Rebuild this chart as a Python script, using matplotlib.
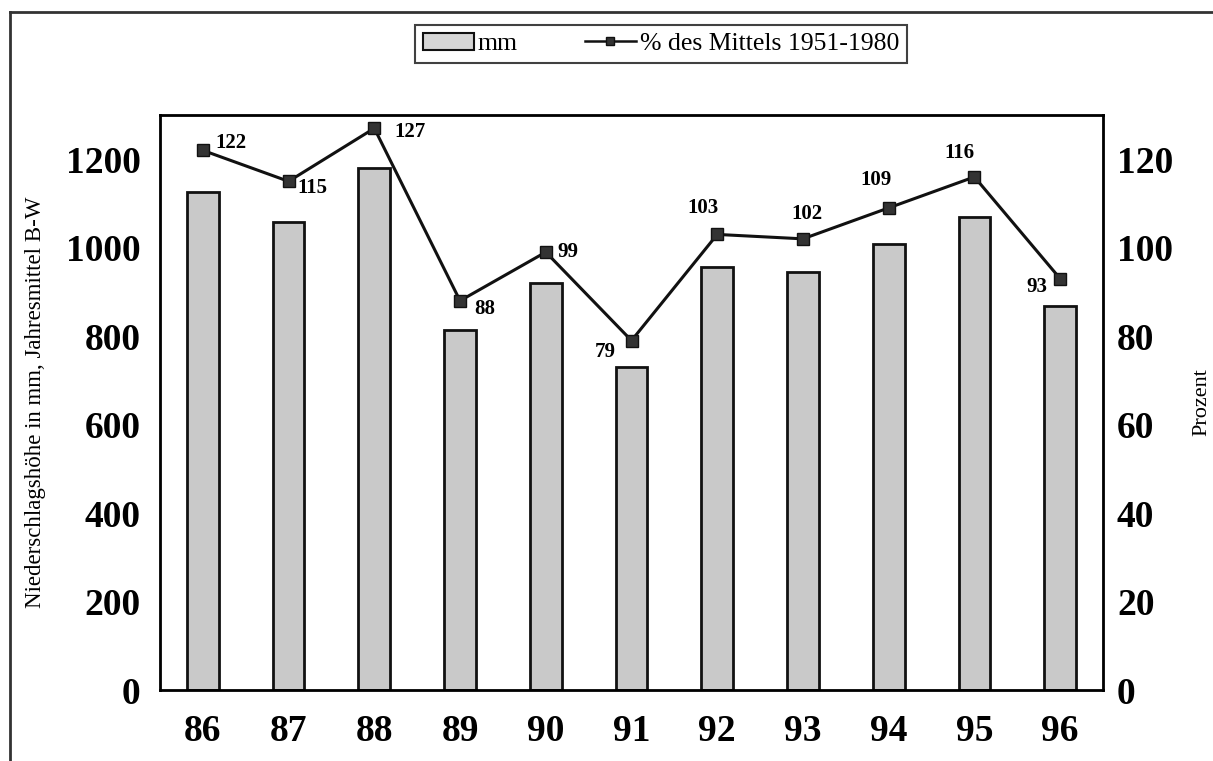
import matplotlib.pyplot as plt
from matplotlib.lines import Line2D

plt.rcParams['font.family'] = ['Liberation Serif', 'DejaVu Serif']

# Niederschlag Baden-Wuerttemberg, Jahressummen und Anteil am Mittel 1951-1980
years = ['86', '87', '88', '89', '90', '91', '92', '93', '94', '95', '96']
mm = [1125, 1058, 1181, 814, 921, 731, 957, 946, 1009, 1069, 868]
percent = [122, 115, 127, 88, 99, 79, 103, 102, 109, 116, 93]

# label offsets (points) for the percent annotations
label_offsets = [(20, 5), (17, -5), (26, -3), (18, -6), (16, 0),
                 (-19, -8), (-10, 19), (3, 18), (-9, 20), (-11, 17), (-17, -6)]

fig = plt.figure(figsize=(12.13, 7.61), dpi=100)
ax = fig.add_axes([160 / 1213, 1 - 690 / 761, 943 / 1213, 575 / 761])

x = list(range(len(years)))
ax.bar(x, mm, width=0.37, color='#c9c9c9', edgecolor='#111111', linewidth=2, zorder=2)
ax.set_xlim(-0.5, len(years) - 0.5)
ax.set_ylim(0, 1300)
ax.set_yticks(range(0, 1201, 200))
ax.set_xticks(x)
ax.set_xticklabels(years)
ax.tick_params(axis='y', length=0, labelsize=27, pad=14)
ax.tick_params(axis='x', length=0, labelsize=27, pad=17)
for lab in ax.get_xticklabels() + ax.get_yticklabels():
    lab.set_fontweight('bold')
for s in ax.spines.values():
    s.set_linewidth(2)
ax.set_ylabel('Niederschlagshöhe in mm, Jahresmittel B-W', fontsize=16.5, labelpad=14)

ax2 = ax.twinx()
ax2.set_ylim(0, 130)
ax2.set_yticks(range(0, 121, 20))
ax2.plot(x, percent, color='#111111', linewidth=2.2, marker='s', markersize=8,
         markerfacecolor='#333333', markeredgecolor='#111111', zorder=3)
for xi, p, off in zip(x, percent, label_offsets):
    ax2.annotate(str(p), (xi, p), xytext=off, textcoords='offset points',
                 ha='center', va='center', fontsize=15, fontweight='bold')
ax2.tick_params(axis='y', length=0, labelsize=27, pad=10)
for lab in ax2.get_yticklabels():
    lab.set_fontweight('bold')
ax2.set_ylabel('Prozent', fontsize=16, labelpad=14)

# legend above the plot area
handles = [
    plt.Rectangle((0, 0), 1, 1, facecolor='#d6d6d6', edgecolor='#111111', linewidth=1.5),
    Line2D([], [], color='#111111', linewidth=1.8, marker='s', markersize=6,
           markerfacecolor='#333333'),
]
leg = fig.legend(handles, ['mm', '% des Mittels 1951-1980'], loc='center',
                 bbox_to_anchor=(661 / 1213, 1 - 44 / 761), ncol=2, fontsize=18.5,
                 frameon=True, fancybox=False, edgecolor='#111111',
                 columnspacing=2.6, handlelength=2.0, handletextpad=0.15,
                 borderpad=0.3, borderaxespad=0)
leg.get_frame().set_linewidth(1.5)

# outer frame lines
fig.add_artist(Line2D([10 / 1213, 10 / 1213], [0, 1 - 12 / 761],
                      transform=fig.transFigure, color='#333333', linewidth=2))
fig.add_artist(Line2D([10 / 1213, 1], [1 - 12 / 761, 1 - 12 / 761],
                      transform=fig.transFigure, color='#333333', linewidth=2))

fig.savefig('out.png', dpi=100)
